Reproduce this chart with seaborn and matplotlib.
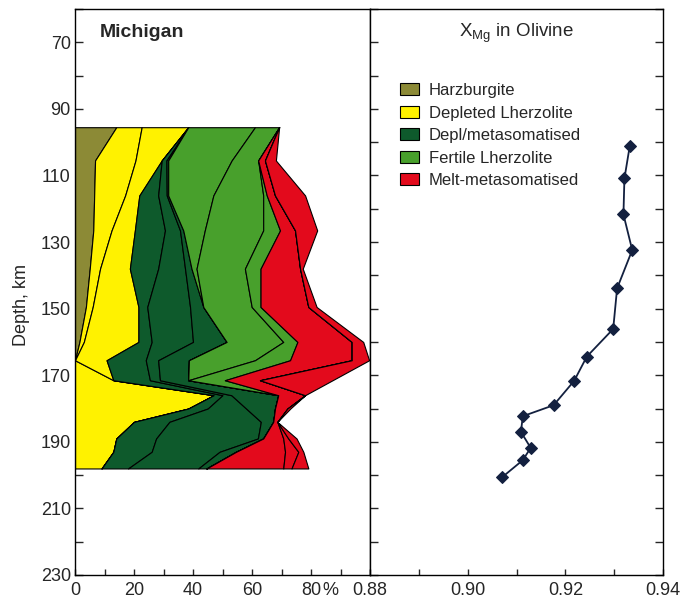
import numpy as np
import matplotlib
matplotlib.use("Agg")
import matplotlib.pyplot as plt
import seaborn as sns
from matplotlib.patches import Patch
from matplotlib.ticker import MultipleLocator, FixedLocator, FuncFormatter
from matplotlib.transforms import offset_copy

# ---- depth levels of the lithology profile (km) ----
depth = [95.5, 105.5, 116, 126.5, 138, 149.5, 160, 165.5, 171.5, 176, 180, 184, 189, 193, 198]

# cumulative percentage edges, left to right
edge_harz   = [14.0, 6.8, 6.5, 6.2, 5.0, 3.7, 1.5, 0.0, 0.0, 0.0, 0.0, 0.0, 0.0, 0.0, 0.0]
edge_dl_a   = [22.6, 20.5, 17.0, 12.4, 8.5, 6.0, 3.0, 0.0, 13.0, 47.0, 38.4, 20.0, 14.0, 13.0, 9.0]
edge_dl_b   = [38.4, 29.4, 21.8, 20.3, 18.6, 21.5, 21.5, 10.7, 13.0, 47.0, 38.4, 20.0, 14.0, 13.0, 9.0]
edge_dm_a   = [38.4, 29.4, 28.2, 30.5, 28.2, 24.5, 26.0, 24.0, 25.4, 50.0, 45.0, 32.0, 27.5, 26.0, 18.0]
edge_dm_b   = [38.4, 31.0, 31.1, 35.6, 37.3, 39.0, 40.0, 28.2, 28.8, 53.0, 58.0, 63.0, 62.0, 49.0, 41.8]
edge_dm_c   = [38.4, 31.6, 31.6, 36.7, 39.5, 43.5, 51.4, 38.6, 38.4, 68.9, 67.8, 67.2, 63.8, 54.6, 44.6]
edge_fl_a   = [61.0, 53.1, 46.9, 44.0, 41.2, 43.5, 51.4, 38.6, 38.4, 68.9, 67.8, 67.2, 63.8, 54.6, 44.6]
edge_fl_b   = [69.2, 62.1, 63.8, 63.8, 57.6, 59.9, 70.6, 61.0, 38.4, 68.9, 67.8, 67.2, 63.8, 54.6, 44.6]
edge_fl_c   = [69.2, 62.1, 65.0, 69.5, 62.9, 62.9, 75.4, 72.9, 50.8, 68.9, 67.8, 67.2, 63.8, 54.6, 44.6]
edge_mm_a   = [69.2, 64.4, 67.8, 74.6, 76.3, 79.1, 93.8, 93.8, 62.7, 78.0, 72.0, 68.6, 70.6, 71.2, 70.6]
edge_mm_b   = [69.2, 64.4, 67.8, 74.6, 76.3, 79.1, 93.8, 93.8, 62.7, 78.0, 72.0, 68.6, 72.3, 75.7, 73.4]
edge_mm_c   = [69.2, 68.1, 78.0, 82.1, 77.2, 81.9, 97.7, 99.7, 87.3, 78.0, 73.0, 68.6, 75.1, 77.4, 79.1]

# ---- Mg-number of olivine ----
ol_depth = [101.1, 110.9, 121.7, 132.4, 143.9, 156.1, 164.4, 171.7, 179.0, 182.3, 187.0, 191.8, 195.5, 200.7]
ol_xmg   = [0.9332, 0.9321, 0.9319, 0.9337, 0.9306, 0.9298, 0.9244, 0.9218, 0.9176, 0.9113, 0.9109, 0.9129, 0.9113, 0.9070]

rock_names  = ["Harzburgite", "Depleted Lherzolite", "Depl/metasomatised",
               "Fertile Lherzolite", "Melt-metasomatised"]
rock_colors = ["#8c8a36", "#fff200", "#0e5a2c", "#48a02c", "#e30a1c"]

sns.set_style("ticks")
plt.rcParams["font.family"] = ["Liberation Sans", "DejaVu Sans"]
plt.rcParams["font.size"] = 13
plt.rcParams["axes.linewidth"] = 1.0

fig = plt.figure(figsize=(6.92, 6.04), dpi=100)
ax1 = fig.add_axes([75 / 692, 1 - 575 / 604, 295 / 692, 566 / 604])
ax2 = fig.add_axes([370 / 692, 1 - 575 / 604, 293 / 692, 566 / 604], sharey=ax1)

# ---- stacked lithology profile ----
edges = [np.zeros(len(depth)), edge_harz, edge_dl_a, edge_dl_b, edge_dm_a, edge_dm_b,
         edge_dm_c, edge_fl_a, edge_fl_b, edge_fl_c, edge_mm_a, edge_mm_b, edge_mm_c]
band_rock = [0, 1, 1, 2, 2, 2, 3, 3, 3, 4, 4, 4]
for i, r in enumerate(band_rock):
    ax1.fill_betweenx(depth, edges[i], edges[i + 1], facecolor=rock_colors[r],
                      edgecolor="black", linewidth=0.8)

ax1.set_xlim(0, 100)
ax1.set_ylim(230, 60)
ax1.xaxis.set_major_locator(FixedLocator([0, 20, 40, 60, 80]))
ax1.xaxis.set_minor_locator(FixedLocator([10, 30, 50, 70, 90, 100]))
ax1.yaxis.set_major_locator(MultipleLocator(20, offset=10))
ax1.yaxis.set_minor_locator(MultipleLocator(20))
ax1.tick_params(axis="both", which="both", direction="in", width=1.0, labelsize=13)
ax1.tick_params(axis="x", which="both", length=4, pad=5)
ax1.tick_params(axis="y", which="both", length=5.5, pad=3)
ax1.set_ylabel("Depth, km", fontsize=13)
ax1.yaxis.set_label_coords(-0.153, 0.477)
pct_trans = offset_copy(ax1.get_xaxis_transform(), fig=fig, y=-5, units="points")
ax1.text(86.6, 0, "%", transform=pct_trans, fontsize=13, ha="center", va="top")
ax1.text(0.085, 0.958, "Michigan", transform=ax1.transAxes, fontsize=14,
         fontweight="bold", ha="left", va="center")

# ---- olivine profile ----
sns.lineplot(x=ol_xmg, y=ol_depth, ax=ax2, sort=False, estimator=None,
             color="#13203f", linewidth=1.3, marker="D", markersize=6,
             markeredgecolor="#13203f")
ax2.set_xlim(0.88, 0.94)
ax2.xaxis.set_major_locator(FixedLocator([0.88, 0.90, 0.92, 0.94]))
ax2.xaxis.set_major_formatter(FuncFormatter(lambda v, p: f"{v:.2f}"))
ax2.xaxis.set_minor_locator(FixedLocator([0.89, 0.91, 0.93]))
ax2.tick_params(axis="both", which="both", direction="in", width=1.0, labelsize=13)
ax2.tick_params(axis="x", which="both", length=4, pad=5)
ax2.tick_params(axis="y", which="both", length=5.5, left=True, right=True, labelleft=False)
ax2.set_xlabel("")
ax2.set_ylabel("")
ax2.text(0.5, 0.958, r"X$_{\mathregular{Mg}}$ in Olivine", transform=ax2.transAxes,
         fontsize=13.5, ha="center", va="center")

handles = [Patch(facecolor=c, edgecolor="black", linewidth=0.8) for c in rock_colors]
ax2.legend(handles, rock_names, loc="upper left", bbox_to_anchor=(0.102, 0.869),
           frameon=False, fontsize=12, handlelength=1.12, handleheight=0.76,
           handletextpad=0.6, labelspacing=0.45, borderaxespad=0, borderpad=0)

for ax in (ax1, ax2):
    for s in ax.spines.values():
        s.set_visible(True)
        s.set_color("black")

fig.savefig("out.png", dpi=100)
